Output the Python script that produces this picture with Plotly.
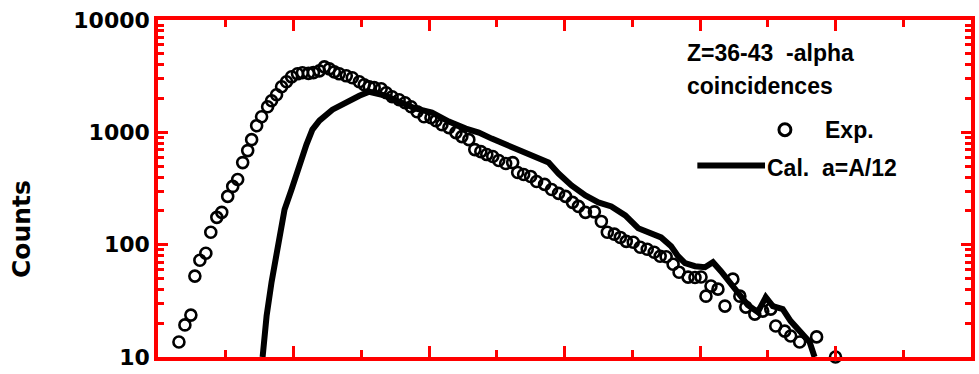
import plotly.graph_objects as go

# ---- data (x in arbitrary channel units, y in counts) ----
exp_x = [3.09, 3.97, 4.85, 5.44, 6.18, 7.06, 7.79, 8.68, 9.41, 10.29, 11.03, 11.76, 12.50, 13.24,
         13.82, 14.56, 15.29, 16.18, 16.76, 17.50, 18.24, 18.97, 19.71, 20.59, 21.32, 22.21, 22.94,
         23.82, 24.56, 25.29, 26.03, 26.76, 27.79, 28.68, 29.71, 30.44, 31.18, 31.91, 32.94, 33.68,
         34.56, 35.59, 36.47, 37.35, 38.24, 39.26, 40.29, 41.03, 41.91, 42.94, 43.97, 44.85, 45.88,
         46.76, 47.65, 48.53, 49.41, 50.29, 51.32, 52.35, 53.09, 53.97, 55.00, 55.88, 57.06, 58.09,
         59.12, 60.15, 61.18, 62.06, 63.09, 64.41, 65.44, 66.32, 67.35, 68.24, 69.12, 70.15, 71.18,
         72.21, 73.24, 74.12, 75.00, 76.03, 76.91, 78.24, 79.26, 80.15, 80.88, 81.62, 82.65, 83.68,
         84.85, 85.88, 86.77, 88.09, 89.26, 90.44, 91.18, 92.50, 93.38, 94.71, 97.21, 100.0]
exp_y = [13.6, 19.3, 23.6, 52.5, 72.7, 83.9, 129, 175, 194, 269, 330, 380, 538, 688,
         861, 1146, 1377, 1690, 1911, 2160, 2544, 2818, 3120, 3318, 3388, 3350, 3400,
         3528, 3828, 3675, 3456, 3318, 3185, 3058, 2818, 2650, 2544, 2500, 2443, 2251,
         2074, 1951, 1834, 1690, 1527, 1377, 1350, 1270, 1170, 1101, 994, 916, 861,
         702, 674, 634, 609, 561, 528, 538, 439, 421, 405, 365, 344, 310,
         286, 269, 238, 219, 194, 196, 161, 129, 124, 116, 107, 105, 94.8,
         91.0, 85.6, 78.9, 78.0, 67.0, 56.9, 51.4, 51.0, 51.5, 34.8, 42.8, 40.2, 28.4,
         49.3, 34.8, 27.8, 24.1, 25.6, 26.7, 18.9, 17.0, 15.4, 13.6, 15.1, 10.0]

cal_x = [15.44, 16.03, 16.76, 17.65, 18.68, 19.71, 20.88, 21.91, 22.79, 23.82, 25.74, 27.79,
         29.71, 31.18, 33.68, 35.59, 38.09, 40.44, 42.94, 45.44, 47.35, 49.26, 51.32, 53.24,
         55.74, 57.65, 59.12, 61.03, 63.09, 65.00, 66.91, 68.97, 70.88, 72.79, 74.26, 75.74,
         76.76, 77.79, 79.26, 80.74, 81.91, 83.09, 84.41, 85.59, 87.06, 88.53, 89.71, 90.74,
         92.21, 93.38, 94.85, 96.18, 96.91]
cal_y = [10.0, 23.2, 46.4, 96.8, 206, 310, 517, 778, 1057, 1270, 1590, 1873,
         2117, 2297, 2117, 1873, 1623, 1496, 1245, 1079, 994, 879, 778, 688,
         609, 538, 430, 337, 274, 238, 219, 182, 140, 124, 116, 96.8,
         78.9, 68.4, 64.3, 63.0, 69.8, 58.1, 46.4, 36.3, 29.0, 25.1, 34.1, 28.4,
         26.7, 20.9, 17.0, 13.6, 10.0]

y_tickvals = [10, 100, 1000, 10000]
y_ticktext = ["10", "100", "1000", "10000"]
legend_title = ["Z=36-43  -alpha", "coincidences"]
exp_label = "Exp."
cal_label = "Cal.  a=A/12"
y_title = "Counts"

# ---- figure ----
W, H = 979, 374
L, R, T, B = 158, 4, 20, 16
pw, ph = W - L - R, H - T - B
INK = "red"

def px(xp):
    return (xp - L) / pw

def py(yp):
    return (H - B - yp) / ph

def bold(s):
    return "<b>" + s + "</b>"

fig = go.Figure()
fig.add_trace(go.Scatter(x=cal_x, y=cal_y, mode="lines",
                         line=dict(color="black", width=6),
                         showlegend=False))
fig.add_trace(go.Scatter(x=exp_x, y=exp_y, mode="markers",
                         marker=dict(symbol="circle-open", size=11, color="black",
                                     line=dict(width=2.6, color="black")),
                         cliponaxis=False, showlegend=False))

fig.update_layout(
    width=W, height=H,
    margin=dict(l=L, r=R, t=T, b=B),
    paper_bgcolor="white", plot_bgcolor="white",
    xaxis=dict(range=[0, 120], showgrid=False, zeroline=False,
               showline=True, linewidth=3.5, linecolor=INK, mirror="ticks",
               ticks="inside", ticklen=11, tickwidth=3, tickcolor=INK,
               tickmode="linear", tick0=0, dtick=20, showticklabels=False,
               minor=dict(ticks="inside", ticklen=7, tickwidth=3, tickcolor=INK,
                          tickmode="linear", tick0=10, dtick=20)),
    yaxis=dict(type="log", range=[1, 4], showgrid=False, zeroline=False,
               showline=True, linewidth=3.5, linecolor=INK, mirror="ticks",
               ticks="inside", ticklen=10, tickwidth=3, tickcolor=INK,
               tickmode="array", tickvals=y_tickvals, ticktext=[bold(t) for t in y_ticktext],
               tickfont=dict(family="DejaVu Sans", size=22, color="black"),
               minor=dict(ticks="inside", ticklen=6, tickwidth=3, tickcolor=INK,
                          dtick="D1")),
)

ann_font = dict(family="Liberation Sans", size=23, color="black")
fig.add_annotation(x=px(21), y=py(230), xref="paper", yref="paper", text=bold(y_title),
                   textangle=-90, showarrow=False, xanchor="center", yanchor="middle",
                   font=dict(family="DejaVu Sans", size=25, color="black"))
fig.add_annotation(x=px(688), y=py(53), xref="paper", yref="paper", text=bold(legend_title[0]),
                   showarrow=False, xanchor="left", yanchor="middle", font=ann_font)
fig.add_annotation(x=px(688), y=py(86), xref="paper", yref="paper", text=bold(legend_title[1]),
                   showarrow=False, xanchor="left", yanchor="middle", font=ann_font)
fig.add_annotation(x=px(826), y=py(130), xref="paper", yref="paper", text=bold(exp_label),
                   showarrow=False, xanchor="left", yanchor="middle", font=ann_font)
fig.add_annotation(x=px(768), y=py(168), xref="paper", yref="paper", text=bold(cal_label),
                   showarrow=False, xanchor="left", yanchor="middle", font=ann_font)

fig.add_shape(type="circle", xref="paper", yref="paper",
              x0=px(782), x1=px(794), y0=py(136), y1=py(124),
              line=dict(color="black", width=3))
fig.add_shape(type="line", xref="paper", yref="paper", x0=px(700), x1=px(768),
              y0=py(166), y1=py(166), line=dict(color="black", width=6))

fig.write_html("out.html")
